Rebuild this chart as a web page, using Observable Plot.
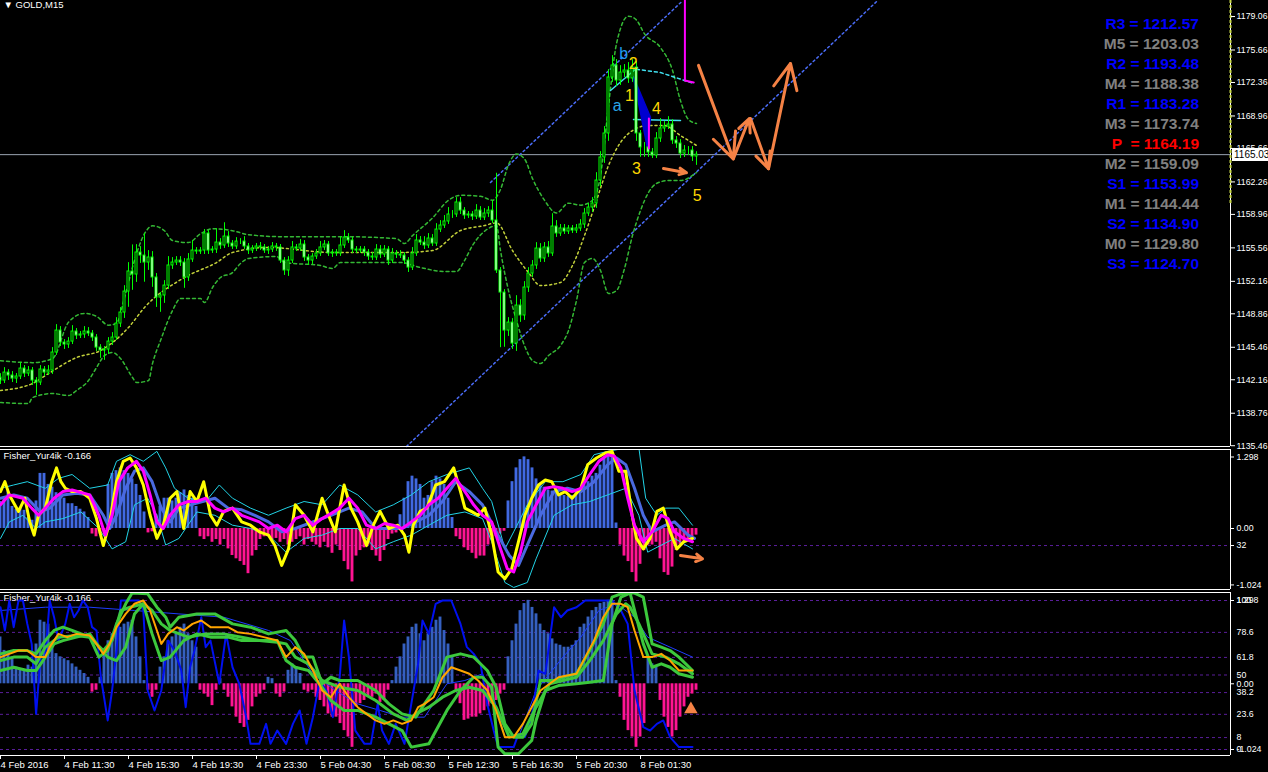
<!DOCTYPE html>
<html><head><meta charset="utf-8">
<script src="https://cdn.jsdelivr.net/npm/d3@7"></script>
<script src="https://cdn.jsdelivr.net/npm/@observablehq/plot@0.6"></script>
<style>
html,body{margin:0;padding:0;background:#000;}
#wrap{position:relative;width:1268px;height:772px;background:#000;overflow:hidden;font-family:"Liberation Sans",Arial,sans-serif;}
.panel{position:absolute;left:0;}
#p1{z-index:2;}
#pivots{position:absolute;left:1000px;top:14px;width:199px;text-align:right;font:bold 15.5px "Liberation Sans",Arial,sans-serif;white-space:pre;line-height:20px;z-index:3;}
#tag{position:absolute;left:1232px;width:36px;height:13px;background:#fff;color:#000;font:10px "Liberation Sans",Arial,sans-serif;line-height:13px;padding-left:2px;box-sizing:border-box;z-index:3;}
</style></head>
<body><div id="wrap"><div id="p2" class="panel" style="top:449px"></div><div id="p3" class="panel" style="top:592px"></div><div id="p1" class="panel" style="top:0"></div><div id="pivots"></div><div id="tag"></div></div>
<script>
// ---------------- DATA ----------------
const closes = [
1142.08,1142.89,1142.59,1142.28,1142.49,1143.30,1142.79,1143.10,1142.08,1141.88,
1143.20,1142.89,1143.10,1144.93,1147.16,1145.94,1145.74,1146.04,1147.06,1146.65,
1146.76,1147.06,1146.86,1146.45,1145.43,1145.13,1145.23,1146.04,1146.45,1147.87,
1148.99,1151.12,1153.16,1152.85,1155.09,1154.78,1154.07,1154.58,1152.55,1150.51,
1150.72,1151.73,1153.77,1154.07,1154.27,1154.07,1152.55,1154.38,1155.29,1155.19,
1155.29,1157.02,1155.29,1155.39,1156.10,1155.80,1156.71,1156.00,1155.70,1156.20,
1156.20,1155.70,1155.29,1155.49,1155.70,1155.60,1155.29,1155.39,1155.70,1155.60,
1154.27,1153.26,1154.27,1155.60,1155.49,1155.90,1154.58,1154.27,1154.68,1154.99,
1155.60,1155.90,1154.99,1155.09,1154.99,1155.80,1156.61,1156.31,1155.39,1155.29,
1155.39,1155.09,1154.68,1154.58,1155.39,1154.88,1155.39,1154.27,1154.99,1154.88,
1154.78,1154.27,1153.56,1154.99,1156.31,1156.10,1155.80,1156.51,1156.00,1157.42,
1157.83,1158.24,1158.95,1158.95,1160.17,1159.35,1158.85,1158.95,1158.74,1159.35,
1158.64,1159.05,1159.35,1158.34,1153.26,1151.02,1147.16,1147.97,1145.84,1149.70,
1148.69,1151.53,1152.95,1153.77,1155.49,1154.48,1155.60,1154.99,1157.73,1157.02,
1157.53,1157.22,1157.53,1157.32,1157.53,1157.93,1159.05,1159.66,1160.07,1162.40,
1164.74,1167.18,1172.87,1174.09,1172.56,1173.37,1173.58,1172.77,1173.88,1167.18,
1165.76,1165.76,1165.25,1164.94,1166.67,1167.69,1167.89,1168.09,1166.47,1166.16,
1165.14,1165.45,1165.45,1164.84,1165.03];
const upWick = [
0.4,0.5,0.3,0.4,0.3,0.6,0.3,0.4,0.3,0.3, 0.4,0.3,0.5,0.5,0.6,0.4,0.3,0.4,0.6,0.3,
0.3,0.5,0.4,0.3,0.3,0.3,0.3,0.4,0.5,0.6, 0.5,0.6,0.9,2.7,0.8,0.6,2.2,0.7,0.6,0.4,
0.3,0.5,0.9,0.5,0.4,0.4,0.4,0.6,1.0,0.3, 0.3,0.4,0.3,0.3,1.4,0.4,1.4,0.5,0.3,0.4,
0.3,0.5,0.3,0.3,0.3,0.4,0.3,0.3,0.4,0.3, 0.3,0.3,0.4,0.6,0.3,0.5,0.4,0.3,0.3,0.4,
0.6,0.4,0.3,0.3,0.3,0.9,0.7,0.4,0.3,0.3, 0.3,0.3,0.3,0.4,0.5,0.4,0.4,0.3,0.5,0.3,
0.4,0.3,0.3,0.6,0.6,0.4,0.6,0.5,0.4,0.6, 0.5,0.6,0.7,0.4,0.5,0.5,0.3,0.3,0.3,0.6,
0.4,0.5,0.4,1.0,4.8,0.3,0.3,0.5,0.4,1.0, 0.6,0.6,0.6,0.5,0.6,0.5,0.5,0.6,1.3,0.6,
0.4,0.4,0.3,0.3,0.4,0.5,0.5,0.4,0.6,0.8, 0.6,0.7,0.8,1.0,0.6,0.7,0.6,0.8,0.8,0.6,
0.3,0.5,0.3,0.4,0.6,1.0,0.5,0.8,0.5,0.4, 0.4,0.5,0.4,0.4,0.3];
const dnWick = [
0.4,0.3,0.5,0.4,0.5,0.3,0.4,0.3,0.5,1.3, 0.3,0.4,0.3,0.4,0.3,0.4,0.5,0.4,0.3,0.4,
0.3,0.4,0.3,0.4,0.4,0.8,1.0,0.5,0.4,0.3, 0.4,0.6,1.6,1.6,0.8,0.8,2.0,0.8,1.0,1.0,
1.5,0.8,0.4,0.4,0.3,0.4,1.1,0.4,0.3,0.3, 0.3,0.4,0.4,0.3,0.4,0.4,0.3,0.4,0.3,0.3,
0.3,0.3,0.4,0.3,0.3,0.3,0.3,0.4,0.3,0.4, 0.3,0.5,0.6,0.3,0.3,0.3,0.4,0.5,0.4,0.3,
0.3,0.3,0.3,0.4,0.3,0.3,0.3,0.3,0.4,0.3, 0.3,0.4,0.4,0.3,0.3,0.4,0.3,0.5,0.3,0.4,
0.3,0.4,0.5,0.3,0.3,0.3,0.4,0.3,0.3,0.3, 0.3,0.3,0.3,0.4,0.3,0.4,0.4,0.3,0.4,0.3,
0.3,0.3,0.4,0.3,0.3,5.6,1.7,0.6,0.6,0.8, 0.7,0.5,0.5,0.4,0.4,0.4,0.4,0.4,0.3,0.4,
0.3,0.3,0.3,0.3,0.3,0.3,0.4,0.3,0.5,0.5, 0.6,0.6,0.8,0.5,0.6,0.5,0.5,0.5,0.4,0.8,
1.0,1.0,0.5,0.3,0.3,0.4,0.4,0.3,0.4,0.5, 0.5,0.4,0.5,0.5,0.9];

const bbUpper = [[0,1144.1],[8,1143.9],[13,1144.3],[17,1148.0],[21,1148.9],[24,1148.6],[27,1147.7],[29,1147.9],[31,1150.5],[33,1153.6],[36,1157.0],[38,1157.8],[41,1157.3],[43,1156.3],[47,1156.1],[50,1157.0],[53,1157.5],[58,1157.3],[62,1156.9],[70,1156.7],[85,1156.7],[99,1156.5],[101,1156.0],[103,1156.8],[108,1158.6],[112,1160.4],[115,1160.9],[120,1160.8],[123,1160.4],[125,1161.5],[127,1164.0],[129,1165.1],[131,1164.6],[133,1162.6],[136,1160.4],[139,1159.1],[142,1160.1],[145,1159.9],[148,1160.4],[150,1162.9],[152,1170.0],[154,1176.3],[157,1179.1],[159,1178.7],[161,1177.3],[165,1175.9],[168,1173.6],[170,1170.5],[172,1168.6],[174,1168.2]];
const bbMiddle = [[0,1141.07],[8,1141.78],[12,1142.79],[19,1144.42],[25,1145.13],[32,1147.47],[36,1149.5],[46,1152.55],[54,1154.07],[58,1155.09],[67,1155.6],[83,1155.09],[100,1155.09],[108,1155.29],[115,1157.32],[121,1157.83],[124,1158.1],[128,1155.29],[132,1153.05],[135,1151.73],[140,1152.04],[143,1153.77],[146,1156.81],[149,1160.37],[152,1163.93],[155,1166.26],[158,1167.48],[162,1167.99],[166,1167.99],[170,1166.97],[174,1165.96]];
const bbLower = [[0,1139.85],[7,1139.74],[8,1140.35],[13,1140.76],[17,1140.56],[19,1141.07],[22,1142.08],[24,1143.4],[26,1144.62],[28,1144.93],[30,1144.32],[33,1142.39],[34,1141.88],[37,1142.08],[38,1143.81],[40,1146.14],[43,1149.19],[45,1150.41],[50,1150.41],[51,1150.01],[53,1151.53],[55,1152.55],[58,1153.05],[60,1153.97],[62,1154.48],[69,1154.68],[71,1154.07],[80,1153.77],[83,1153.46],[85,1154.07],[100,1154.07],[105,1153.56],[111,1153.16],[114,1153.16],[116,1154.27],[118,1155.8],[122,1157.53],[124,1157.83],[125,1155.29],[127,1151.22],[129,1148.18],[131,1145.64],[133,1144.11],[135,1143.81],[137,1144.62],[140,1145.64],[142,1147.16],[144,1150.21],[146,1154.07],[148,1154.48],[150,1153.26],[152,1150.92],[154,1151.22],[156,1153.46],[158,1156.81],[160,1159.35],[162,1161.18],[164,1162.1],[167,1162.4],[170,1162.4],[174,1163.22]];

const channelUpper = [[122.5,1162.2],[170.6,1180.69]];
const channelLower = [[101.5,1135.38],[219.3,1180.69]];
const waveLineA = [[152.5,1171.55],[159.25,1173.88]];
const waveDashed = [[157.5,1173.78],[165,1173.37],[173.25,1172.26]];
const waveLevel = [[158.25,1168.6],[170,1168.5]];
const wedge = [[158.2,1172.97],[162.5,1168.83],[161.7,1165.78]];
const magentaTop = [[171.1,1180.69],[171.1,1172.56],[173.3,1172.36]];
const magentaMid = [[162.1,1168.7],[162.1,1165.65]];
const forecast = [
  [174.5,1174.1,183.2,1164.6],[183.2,1164.6,187.2,1168.7],
  [187.5,1168.7,192,1163.6],[192,1163.6,197.5,1174.3],
  [165.75,1163.62,171.5,1163.2]];
const waveText = ["b","2","1","a","4","3","5"];
const waveBar = [155.8,158.2,157.25,154.2,164,159,174.2];
const wavePrice = [1175.27,1174.26,1171.04,1170.02,1169.69,1163.59,1160.88];
const waveColor = ["#1E9BF0","#FFD700","#FFD700","#2AA6E8","#FFD700","#FFD700","#FFD700"];

const lastPrice = 1165.03;
const priceTicks = [1179.06,1175.66,1172.36,1168.96,1165.66,1162.26,1158.96,1155.56,1152.16,1148.86,1145.46,1142.16,1138.76,1135.46];

const pivotNames = ["R3","M5","R2","M4","R1","M3","P ","M2","S1","M1","S2","M0","S3"];
const pivotValues = ["1212.57","1203.03","1193.48","1188.38","1183.28","1173.74","1164.19","1159.09","1153.99","1144.44","1134.90","1129.80","1124.70"];
const pivotColors = ["#0000FF","#808080","#0000FF","#808080","#0000FF","#808080","#FF0000","#808080","#0000FF","#808080","#0000FF","#808080","#0000FF"];

const timeTicks = [0,16,32,48,64,80,96,112,128,144,160];
const timeLabels = ["4 Feb 2016","4 Feb 11:30","4 Feb 15:30","4 Feb 19:30","4 Feb 23:30","5 Feb 04:30","5 Feb 08:30","5 Feb 12:30","5 Feb 16:30","5 Feb 20:30","8 Feb 01:30"];

// Fisher panel 1
const fisherHist = [
0.49,0.55,0.67,0.40,0.35,0.37,0.33,0.20,0.15,0.50, 1.00,1.00,0.80,0.75,0.65,0.60,0.55,0.45,0.45,0.40,
0.35,0.30,0.20,-0.10,-0.15,-0.10,-0.12,0.80,1.00,1.05, 1.10,1.05,1.00,0.90,0.80,0.60,0.30,-0.08,-0.06,0.25,
0.40,0.55,0.55,0.50,0.55,0.65,0.70,0.60,0.55,0.40, -0.15,-0.20,-0.15,-0.25,-0.20,-0.30,-0.20,-0.37,-0.49,-0.55,
-0.60,-0.67,-0.82,-0.50,-0.40,-0.20,-0.15,-0.15,-0.20,-0.18, -0.25,-0.20,-0.30,-0.25,-0.20,-0.15,-0.30,-0.20,-0.25,-0.30,
-0.35,-0.25,-0.35,-0.45,-0.30,-0.40,-0.60,-0.75,-0.97,-0.50, -0.40,-0.35,-0.30,-0.40,-0.50,-0.60,-0.40,-0.20,-0.10,-0.08,
0.25,0.55,0.85,0.95,0.90,0.80,0.55,0.60,0.85,0.95, 0.90,0.80,0.55,0.20,-0.15,-0.20,-0.35,-0.40,-0.45,-0.55,
-0.50,-0.50,-0.30,-0.20,-0.15,-0.10,-0.05,0.50,0.85,1.10, 1.25,1.30,1.25,1.10,0.90,0.80,0.75,0.70,0.68,0.65,
0.62,0.60,0.58,0.60,0.65,0.70,0.80,0.85,0.95,1.00, 1.15,1.28,1.32,1.34,0.10,-0.30,-0.50,-0.60,-0.80,-0.97,
-0.65,-0.40,-0.30,-0.30,-0.25,-0.55,-0.80,-0.85,-0.70,-0.40, -0.30,-0.25,-0.20,-0.15,-0.12];
const fisherFast = [[0,0.67],[1.1,0.85],[2.2,0.61],[4.5,0.31],[6.1,0.55],[7.3,0.12],[8.4,-0.12],[9.5,0.24],[11.2,0.37],[12.8,0.85],[14,1.10],[15.1,0.85],[16.2,0.73],[17.9,0.67],[20.1,0.67],[22.3,0.55],[24,0.18],[25.7,-0.31],[27.3,0.12],[29,0.85],[30.7,1.22],[32.4,1.28],[34,1.10],[35.7,0.79],[37.4,0.24],[39.1,-0.18],[40.7,0.06],[42.4,0.55],[44.1,0.67],[45.8,0],[47.4,0.67],[49.1,0.49],[50.8,0.85],[52.5,0.24],[54.1,0.06],[55.8,0.31],[58,0.37],[60.3,0.12],[62.5,0.06],[64.7,-0.06],[67,-0.12],[68.6,-0.31],[70.3,-0.67],[72,-0.37],[73.7,0.43],[75.9,0.24],[78.1,-0.06],[80.4,0.55],[82,0.24],[83.7,-0.06],[85.9,0.79],[87.6,0.37],[89.3,0.12],[91.5,-0.31],[93.2,0.06],[94.9,0.31],[97.1,0],[99.3,0.06],[101,-0.12],[102.1,-0.43],[103.2,0.06],[104.9,0.31],[106.6,0.37],[108.8,0.79],[111,0.85],[113.3,1.10],[115,0.67],[116.1,0.37],[117.7,0.31],[119.4,0.24],[121.1,0.37],[122.8,-0.12],[124.4,-0.79],[126.1,-0.91],[127.8,-0.73],[129.5,-0.24],[131.1,0.24],[132.8,0.55],[134.5,0.79],[136.2,0.88],[137.8,0.85],[139.5,0.61],[141.2,0.67],[142.9,0.55],[145.1,0.73],[146.8,1.16],[149,1.28],[151.2,1.37],[152.9,1.40],[154.6,1.04],[156.3,1.04],[157.9,0.24],[159,-0.18],[160.7,-0.37],[162.4,-0.18],[164.1,0.31],[165.7,0.37],[167.4,-0.06],[169.1,-0.37],[170.8,-0.24],[173,-0.18]];
const fisherSlow = [[0,0.43],[2.2,0.61],[5.6,0.55],[7.8,0.37],[9.5,0.24],[11.2,0.37],[13.4,0.55],[15.6,0.67],[17.9,0.70],[22.3,0.61],[24.6,0.24],[26.2,-0.12],[27.9,0.24],[29.6,0.85],[31.8,1.10],[34,1.22],[35.7,1.04],[37.4,0.61],[39.1,0.12],[40.7,0],[42.4,0.24],[44.6,0.43],[46.9,0.49],[49.1,0.49],[51.3,0.55],[53.6,0.37],[55.8,0.30],[58,0.37],[60.3,0.24],[62.5,0.18],[64.7,0.12],[67,0],[69.2,0.06],[71.4,-0.06],[73.7,0.18],[75.9,0.24],[78.1,0.06],[80.4,0.18],[82.6,0.27],[84.8,0.37],[87.1,0.55],[89.3,0.37],[91.5,0.06],[93.8,0],[96,0.09],[98.2,0.06],[100.4,0],[102.7,0.12],[104.9,0.24],[107.1,0.43],[109.4,0.55],[111.6,0.73],[113.8,0.91],[116.1,0.67],[118.3,0.43],[120.5,0.24],[122.8,0.12],[125,-0.37],[126.7,-0.73],[128.3,-0.79],[130,-0.43],[131.7,0.12],[133.9,0.43],[136.2,0.73],[138.4,0.76],[140.6,0.73],[142.9,0.67],[145.1,0.73],[147.3,0.98],[149.6,1.22],[151.8,1.34],[153.5,1.31],[155.1,1.10],[156.8,0.55],[158.5,0.06],[160.7,-0.24],[162.9,-0.06],[165.2,0.24],[166.9,0.18],[168.5,-0.06],[170.8,-0.18],[173,-0.24]];
const fisherSignal = [[0,0.55],[3.3,0.61],[6.7,0.55],[10,0.30],[12.3,0.37],[15.6,0.61],[19,0.64],[22.3,0.61],[25.7,0.24],[27.3,0],[29,0.24],[31.3,0.73],[33.5,1.04],[35.7,1.10],[37.9,0.85],[40.2,0.37],[42.4,0.12],[44.6,0.37],[49.1,0.46],[53.6,0.55],[56.9,0.37],[60.3,0.34],[63.6,0.24],[67,0.12],[70.3,-0.06],[73.7,0],[78.1,0.12],[82.6,0.24],[87.1,0.37],[90.4,0.30],[93.8,0],[97.1,0],[100.4,0],[103.8,0.12],[107.1,0.24],[110.5,0.49],[113.8,0.85],[117.2,0.67],[120.5,0.43],[123.9,-0.06],[127.2,-0.49],[129.5,-0.67],[131.7,-0.30],[135,0.24],[138.4,0.67],[141.7,0.73],[145.1,0.67],[148.4,0.85],[151.8,1.16],[154,1.28],[156.3,1.16],[158.5,0.73],[160.7,0.24],[162.9,-0.06],[166.3,0.06],[168.5,0.12],[171.9,-0.12],[173.5,-0.18]];
const fisherBandUp = [[0,0.73],[3.3,0.79],[6.7,0.85],[11.2,0.73],[14.5,0.91],[17.9,0.98],[22.3,0.73],[26.8,0.79],[29,1.22],[32.4,1.34],[35.7,1.22],[39.1,1.40],[41.3,1.10],[43.5,0.73],[46.9,0.55],[51.3,0.49],[54.7,0.79],[58,0.55],[62.5,0.37],[67,0.24],[71.4,0.37],[75.9,0.49],[80.4,0.43],[84.8,0.79],[89.3,0.61],[93.8,0.30],[98.2,0.43],[102.7,0.61],[107.1,0.85],[111.6,0.98],[117.2,1.10],[120.5,0.73],[122.8,0.49],[126.1,-0.37],[128.3,-0.06],[131.7,0.43],[136.2,0.85],[140.6,0.85],[145.1,0.98],[148.4,1.34],[151.8,1.40],[156.3,1.46],[159.6,1.46],[161.3,0.55],[164.1,0.24],[166.3,0.37],[169.6,0.37],[173,0.06]];
const fisherBandDn = [[0,-0.18],[2.2,0.12],[5.6,0.24],[8.9,0],[11.2,0.12],[15.6,0.18],[20.1,0.30],[24.6,0],[27.9,-0.37],[31.3,-0.24],[33.5,0.43],[36.8,0.55],[39.1,0.24],[41.3,-0.30],[44.6,-0.18],[49.1,0.30],[53.6,0.24],[58,0.06],[62.5,0],[67,-0.12],[71.4,-0.43],[75.9,-0.18],[80.4,-0.12],[84.8,0],[89.3,0],[93.8,-0.37],[98.2,-0.24],[102.7,-0.12],[107.1,0.06],[111.6,0.24],[116.1,0.30],[120.5,0.18],[122.8,-0.24],[126.1,-0.98],[128.3,-1.07],[131.7,-0.98],[133.9,-0.55],[138.4,0.24],[142.9,0.43],[147.3,0.49],[151.8,0.61],[156.3,0.73],[159.6,0.24],[161.8,-0.43],[165.2,-0.30],[168.5,-0.18],[173,-0.37]];
const fisherLevel = -0.309;

// Fisher panel 2 (histogram in fisher units, lines in 0..100 units)
const fisherHist2 = [
0.73,0.52,0.47,0.42,0.26,0.23,0.21,0.29,0.26,0.62, 0.99,0.96,0.93,0.57,0.47,0.42,0.39,0.36,0.31,0.26,
0.21,0.16,0.10,-0.13,-0.10,0.10,0.52,0.67,0.78,0.86, 0.88,0.93,0.96,0.99,0.73,0.42,0.05,-0.10,-0.21,-0.10,
0.26,0.42,0.67,0.73,0.78,0.88,0.93,0.78,0.67,0.57, -0.10,-0.16,-0.21,-0.34,-0.10,0.08,-0.10,-0.21,-0.36,-0.52,
-0.62,-0.68,-0.57,-0.36,-0.21,-0.16,-0.10,0.10,0.08,-0.16, -0.21,-0.13,0.21,0.31,0.26,0.16,-0.10,-0.13,-0.10,-0.21,
-0.26,-0.36,-0.47,-0.52,-0.52,-0.62,-0.73,-0.83,-0.99,-0.36, -0.31,-0.26,-0.21,-0.21,-0.16,-0.29,-0.26,-0.10,0.05,0.26,
0.42,0.62,0.73,0.88,0.93,0.78,0.67,0.78,0.88,0.99, 1.04,0.83,0.62,0.42,-0.10,-0.31,-0.57,-0.55,-0.52,-0.52,
-0.47,-0.42,-0.36,-0.31,-0.26,-0.16,-0.10,0.42,0.67,0.93, 1.14,1.25,1.30,1.19,1.09,0.93,0.83,0.78,0.70,0.62,
0.60,0.57,0.57,0.60,0.67,0.88,0.93,1.04,1.14,1.19, 1.25,1.27,1.30,1.30,0.05,-0.21,-0.57,-0.73,-0.83,-0.99,
-0.83,-0.62,0.42,0.31,0.26,-0.26,-0.52,-0.68,-0.83,-0.73, -0.52,-0.36,-0.21,-0.16,-0.10];
const levels2 = [100,78.6,61.8,50,38.2,23.6,8,0];
const fastLine2 = [[0,95.5],[1.1,79.9],[2.2,100],[3.3,82.1],[4.5,100],[5.6,100],[6.7,84.3],[7.8,70.9],[8.9,23.9],[10,62],[11.2,62],[12.3,100],[13.4,88.8],[14.5,73.1],[16.2,84.3],[17.3,97.8],[18.4,88.8],[19.5,93.3],[20.6,100],[21.8,95.5],[22.9,82.1],[24,79.9],[25.1,48.5],[26.8,19.5],[27.9,39.6],[29,66.4],[30.1,100],[34.6,100],[35.7,93.3],[36.8,39.6],[38.5,26.2],[40.2,39.6],[41.9,73.1],[43.5,66.4],[45.2,53],[46.3,28.4],[47.4,55.2],[48.5,66.4],[50.2,88.8],[51.3,68.7],[52.5,73.1],[54.7,44.1],[56.4,77.6],[58,55.2],[59.7,44.1],[61.4,21.7],[62.5,3.8],[64.7,3.8],[66.4,17.2],[67.5,3.8],[69.2,12.7],[71.4,3.8],[73.1,17.2],[74.8,26.2],[76.5,3.8],[78.1,21.7],[79.8,46.3],[81.5,39.6],[83.1,21.7],[84.8,48.5],[85.9,86.6],[87.1,62],[88.7,12.7],[91,3.8],[92.6,3.8],[94.3,30.6],[95.4,12.7],[97.1,3.8],[98.8,17.2],[101,3.8],[102.7,30.6],[104.4,57.5],[105.5,86.6],[107.1,77.6],[108.8,97.8],[110.5,100],[112.7,100],[115,84.3],[116.6,68.7],[118.3,64.2],[120,57.5],[121.7,30.6],[123.3,12.7],[124.4,1.6],[128.3,1.6],[129.5,10.5],[131.1,8.3],[132.8,21.7],[134.5,53],[136.2,50.8],[138.4,95.5],[140.1,88.8],[141.7,93.3],[144,95.5],[146.2,100],[152.9,100],[155.1,93.3],[156.8,84.3],[158.5,39.6],[160.7,15],[162.4,12.7],[164.1,17.2],[165.7,19.5],[167.4,8.3],[169.6,1.6],[173,1.6]];
const slowLine2 = [[0,93.3],[11.2,95.5],[22.3,95.5],[33.5,93.3],[44.6,91],[55.8,88.8],[67,79.9],[72.5,73.1],[78.1,50.8],[83.7,39.6],[89.3,30.6],[94.9,26.2],[100.4,21.7],[106,21.7],[111.6,44.1],[116.1,46.3],[120.5,50.8],[122.8,39.6],[126.1,8.3],[129.5,8.3],[133.9,39.6],[140.6,62],[145.1,75.4],[149.6,93.3],[154,97.8],[158.5,88.8],[161.8,75.4],[167.4,68.7],[173,62]];
const orangeLine2 = [[0,62],[2.2,64.2],[4.5,66.4],[6.7,66.4],[8.9,62],[11.2,62],[12.3,68.7],[14.5,77.6],[16.7,75.4],[19,77.6],[22.3,76.5],[24,70.9],[25.7,64.2],[27.3,70.9],[29,82.1],[31.3,91],[33.5,97.8],[35.7,100],[37.4,93.3],[39.1,79.9],[40.2,70.9],[41.9,77.6],[44.1,82.1],[45.8,79.9],[48,84.3],[50.2,86.6],[52.5,82.1],[54.7,82.1],[56.9,82.1],[59.2,78.7],[62.5,77.6],[65.8,75.4],[69.2,73.1],[71.4,62],[73.7,68.7],[75.9,64.2],[78.1,53],[80.4,39.6],[82.6,35.1],[84.8,44.1],[87.1,35.1],[89.3,28.4],[91.5,23.9],[93.8,19.5],[96,17.2],[98.2,19.5],[100.4,17.2],[102.7,19.5],[104.4,28.4],[106,30.6],[108.3,35.1],[110.5,48.5],[112.7,55.2],[115,53],[117.2,50.8],[119.4,46.3],[121.7,39.6],[123.9,26.2],[126.1,8.3],[128.3,8.3],[130.6,17.2],[132.8,28.4],[135,39.6],[137.3,44.1],[139.5,48.5],[141.7,49.7],[144,50.8],[146.2,62],[148.4,73.1],[150.7,88.8],[152.9,97.8],[155.1,97.8],[156.8,95.5],[158.5,79.9],[160.7,62],[162.9,62],[165.2,64.2],[167.4,59.7],[169.6,53],[173,53]];
const greenA2 = [[0,64.2],[3.3,66.4],[6.7,66.4],[8.9,64.2],[11.2,73.1],[13.4,79.9],[15.6,82.1],[17.9,79.9],[22.3,75.4],[24.6,62],[26.8,66.4],[29,84.3],[31.3,97.8],[32.9,105],[36.8,104.5],[39.1,95.5],[41.3,88.8],[42.4,82.1],[44.6,88.8],[49.1,91],[53.6,91],[58,84.3],[62.5,82.1],[67,77.6],[71.4,79.9],[73.7,73.1],[75.9,62],[78.1,62],[80.4,44.1],[82.6,48.5],[84.8,46.3],[89.3,46.3],[93.8,39.6],[97.1,30.6],[100.4,23.9],[103.8,21.7],[106,30.6],[108.3,39.6],[111.6,62],[115,64.2],[118.3,62],[121.7,53],[123.9,41.8],[126.1,17.2],[128.3,8.3],[130.6,8.3],[132.8,17.2],[135,46.3],[138.4,46.3],[140.6,48.5],[144,50.8],[147.3,66.4],[150.7,84.3],[152.9,102.2],[155.1,104.5],[156.3,105],[158.5,105],[160.7,102.2],[162.9,70.9],[165.2,68.7],[167.4,66.4],[169.6,62],[173,53]];
const greenB2 = [[0,59.7],[3.3,62],[6.7,62],[8.9,57.5],[11.2,68.7],[14.5,75.4],[19,76.5],[22.3,75.4],[25.7,66.4],[27.9,73.1],[30.1,93.3],[32.4,95.5],[35.7,97.8],[37.9,93.3],[40.2,84.3],[42.4,79.9],[46.9,75.4],[51.3,77.6],[55.8,77.6],[60.3,75.4],[64.7,73.1],[69.2,72],[71.4,70.9],[73.7,62],[77,57.5],[80.4,46.3],[84.8,41.8],[89.3,39.6],[93.8,32.9],[98.2,23.9],[101.6,19.5],[103.8,23.9],[107.1,28.4],[110.5,35.1],[113.8,39.6],[117.2,41.8],[120.5,39.6],[123.9,28.4],[127.2,8.3],[130.6,10.5],[133.9,28.4],[137.3,44.1],[140.6,46.3],[144,48.5],[147.3,59.7],[150.7,73.1],[154,91],[156.3,97.8],[157.4,95.5],[159.6,84.3],[162.9,64.2],[166.3,62],[169.6,57.5],[173,50.8]];
const greenC2 = [[0,53],[3.3,55.2],[6.7,53],[8.9,53],[11.2,62],[13.4,70.9],[15.6,73.1],[19,75.4],[22.3,77.6],[24.6,68.7],[26.8,62],[29,59.7],[31.3,68.7],[33.5,91],[35.7,97.8],[37.9,77.6],[40.2,59.7],[42.4,62],[45.8,73.1],[49.1,77.6],[52.5,75.4],[56.9,75.4],[60.3,73.1],[64.7,73.1],[69.2,73.1],[71.4,59.7],[73.7,55.2],[77,53],[80.4,41.8],[82.6,32.9],[85.9,26.2],[89.3,26.2],[93.8,21.7],[97.1,17.2],[100.4,12.7],[102.7,1.6],[107.1,3.8],[111.6,26.2],[115,39.6],[118.3,48.5],[120.5,48.5],[122.8,41.8],[124.4,1.6],[126.1,-2.9],[129.5,-2.9],[132.8,6],[133.9,19.5],[136.2,39.6],[139.5,42.9],[144,44.1],[147.3,45.2],[150.7,46.3],[152.9,84.3],[155.1,102.2],[157.4,105],[160.7,70.9],[162.9,55.2],[165.2,57.5],[167.4,55.2],[169.6,50.8],[173,48.5]];
const fisherMin = -1.024, fisherMax = 1.298;

// ---------------- CHART ----------------
const FONT = '"Liberation Sans", Arial, sans-serif';
const W = 1268, MR = 38, XD = [0, 307.5];
const AX = 8.8;
const style = {background: "black", color: "white", fontFamily: FONT, fontSize: "9.5px"};
const bars = closes.map((c, i) => {
  const o = i === 0 ? c + 0.3 : closes[i - 1];
  return {i, o, c, h: Math.max(o, c) + upWick[i], l: Math.min(o, c) - dnWick[i]};
});
const L = (data, opts) => Plot.line(data, {x: d => d[0], y: d => d[1], ...opts});
const GREEN = "#00FF00";

const yMain = [1135.38, 1180.69];
const main = Plot.plot({
  width: W, height: 447, marginLeft: 0, marginRight: MR, marginTop: 0, marginBottom: 1,
  x: {domain: XD, axis: null}, y: {domain: yMain}, color: {type: "identity"},
  style: {...style, overflow: "visible"},
  marks: [
    Plot.text(["\u25BC GOLD,M15"], {frameAnchor: "top-left", dx: 3, dy: 1, lineAnchor: "top", textAnchor: "start", fill: "white", fontSize: 9.5}),
    Plot.ruleY([lastPrice], {stroke: "#9AA5B1", strokeWidth: 1}),
    L(channelUpper, {stroke: "#4A6CF7", strokeDasharray: "2,3"}),
    L(channelLower, {stroke: "#4A6CF7", strokeDasharray: "2,3"}),
    L(bbUpper, {stroke: "#34B834", strokeDasharray: "3,3", curve: "monotone-x"}),
    L(bbLower, {stroke: "#34B834", strokeDasharray: "3,3", curve: "monotone-x"}),
    L(bbMiddle, {stroke: "#C2D03A", strokeDasharray: "2,3", curve: "monotone-x"}),
    L(waveLineA, {stroke: "#40E0F0"}),
    L(waveDashed, {stroke: "#40E0F0", strokeDasharray: "3,3"}),
    L(waveLevel, {stroke: "#40E0F0"}),
    Plot.line([...wedge, wedge[0]], {x: d => d[0], y: d => d[1], fill: "#0000D0", stroke: "#0000D0"}),
    Plot.ruleX(bars, {x: "i", y1: "l", y2: "h", stroke: GREEN}),
    Plot.rect(bars, {x1: d => d.i - 0.25, x2: d => d.i + 0.25, y1: "o", y2: "c", fill: d => d.c < d.o ? "#FFFFFF" : "#000000", stroke: GREEN}),
    L(magentaTop, {stroke: "#FF00FF", strokeWidth: 2}),
    L(magentaMid, {stroke: "#FF00FF", strokeWidth: 2}),
    Plot.arrow(forecast, {x1: d => d[0], y1: d => d[1], x2: d => d[2], y2: d => d[3], stroke: "#F58245", strokeWidth: 3, headLength: 14, headAngle: 50}),
    Plot.text(waveText, {x: (d, i) => waveBar[i], y: (d, i) => wavePrice[i], text: d => d, fill: (d, i) => waveColor[i], fontSize: 16, fontWeight: (d) => d === "b" ? "bold" : "normal"}),
    Plot.ruleX([XD[1]], {stroke: "white"}),
    Plot.ruleX([XD[1]], {y1: 1160.06, y2: yMain[1], stroke: "#C8D848", strokeWidth: 2, strokeDasharray: "3,2"}),
    Plot.ruleY([yMain[0]], {stroke: "white"}),
    Plot.axisY(priceTicks, {anchor: "right", tickSize: 4, tickPadding: 2, tickFormat: d => d.toFixed(2), fontSize: AX})
  ]
});
main.style.background = "transparent";
document.getElementById("p1").appendChild(main);

const tag = document.getElementById("tag");
tag.textContent = lastPrice.toFixed(2);
tag.style.top = (main.scale("y").apply(lastPrice) - 6) + "px";

const piv = document.getElementById("pivots");
pivotNames.forEach((n, k) => {
  const d = document.createElement("div");
  d.style.color = pivotColors[k];
  d.textContent = n + " = " + pivotValues[k];
  piv.appendChild(d);
});

const rectHist = (vals, yOf, opts = {}) => Plot.rect(vals.map((v, i) => ({i, v})), {
  x1: d => d.i - 0.36, x2: d => d.i + 0.36, y1: yOf(0), y2: d => yOf(d.v),
  fill: d => d.v >= 0 ? (opts.pos || "#4169E1") : "#FF1493"
});

// Panel 2
const y2 = [-1.107, 1.434];
const p2 = Plot.plot({
  width: W, height: 141, marginLeft: 0, marginRight: MR, marginTop: 0, marginBottom: 1,
  x: {domain: XD, axis: null}, y: {domain: y2}, color: {type: "identity"}, style,
  marks: [
    Plot.ruleY([fisherLevel], {stroke: "#5A1E9A", strokeDasharray: "3,3"}),
    rectHist(fisherHist, v => v),
    Plot.text(["Fisher_Yur4ik -0.166"], {frameAnchor: "top-left", dx: 3, dy: 3, lineAnchor: "top", textAnchor: "start", fill: "white", fontSize: 9.5}),
    L(fisherBandUp, {stroke: "#22D3E6", strokeWidth: 1}),
    L(fisherBandDn, {stroke: "#22D3E6", strokeWidth: 1}),
    L(fisherSignal, {stroke: "#4A6AE0", strokeWidth: 3}),
    L(fisherFast, {stroke: "#FFFF00", strokeWidth: 3}),
    L(fisherSlow, {stroke: "#FF00FF", strokeWidth: 3}),
    Plot.arrow([[170, -0.49, 175.5, -0.55]], {x1: d => d[0], y1: d => d[1], x2: d => d[2], y2: d => d[3], stroke: "#F58245", strokeWidth: 3, headLength: 8, headAngle: 60}),
    Plot.ruleY([y2[1], y2[0]], {stroke: "white"}),
    Plot.ruleX([XD[1]], {stroke: "white"}),
    Plot.axisY([1.298, 0, fisherLevel, -1.024], {anchor: "right", tickSize: 3, tickPadding: 3, fontSize: AX,
      tickFormat: d => d === 1.298 ? "1.298" : d === 0 ? "0.00" : d === fisherLevel ? "32" : "-1.024"})
  ]
});
document.getElementById("p2").appendChild(p2);

// Panel 3
const toPct = f => (f - fisherMin) / (fisherMax - fisherMin) * 100;
const y3 = [-4.03, 105.37];
const p3 = Plot.plot({
  width: W, height: 180, marginLeft: 0, marginRight: MR, marginTop: 0, marginBottom: 17,
  x: {domain: XD}, y: {domain: y3}, color: {type: "identity"}, style,
  marks: [
    Plot.ruleY(levels2, {stroke: "#5A1E9A", strokeDasharray: "3,3"}),
    rectHist(fisherHist2, toPct, {pos: "#3560C0"}),
    Plot.text(["Fisher_Yur4ik -0.166"], {frameAnchor: "top-left", dx: 3, dy: 2, lineAnchor: "top", textAnchor: "start", fill: "white", fontSize: 9.5}),
    L(slowLine2, {stroke: "#1F3DFF", strokeWidth: 1}),
    L(fastLine2, {stroke: "#0010F0", strokeWidth: 2}),
    L(greenC2, {stroke: "#3CC83C", strokeWidth: 3}),
    L(greenB2, {stroke: "#3CC83C", strokeWidth: 3}),
    L(greenA2, {stroke: "#3CC83C", strokeWidth: 3}),
    L(orangeLine2, {stroke: "#FFA500", strokeWidth: 2}),
    Plot.dot([[172.6, 27]], {x: d => d[0], y: d => d[1], symbol: "triangle", r: 5, fill: "#F58245"}),
    Plot.ruleY([y3[1], y3[0]], {stroke: "white"}),
    Plot.ruleX([XD[1]], {stroke: "white"}),
    Plot.axisY(levels2, {anchor: "right", tickSize: 0, tickPadding: 6, fontSize: AX, tickFormat: d => String(d)}),
    Plot.axisY([toPct(1.298), toPct(0), toPct(-1.024)], {anchor: "right", tickSize: 3, tickPadding: 3, fontSize: AX,
      tickFormat: (d, k) => ["1.298", "0.00", "-1.024"][k]}),
    Plot.axisX(timeTicks, {anchor: "bottom", tickSize: 4, tickPadding: 2, textAnchor: "start", fontSize: 9.5,
      tickFormat: d => timeLabels[timeTicks.indexOf(d)]})
  ]
});
document.getElementById("p3").appendChild(p3);
</script>
</body></html>
